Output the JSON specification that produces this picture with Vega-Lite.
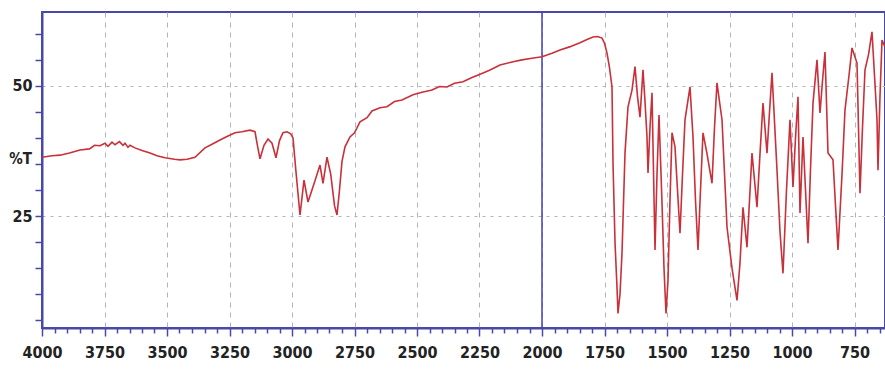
{
  "$schema": "https://vega.github.io/schema/vega-lite/v6.json",
  "width": 843,
  "height": 316,
  "autosize": {"type": "none"},
  "padding": {"left": 42, "top": 12, "right": 0, "bottom": 45},
  "background": "white",
  "config": {
    "view": {"stroke": "#4848a8", "strokeWidth": 2},
    "axis": {
      "labelFont": "DejaVu Sans Condensed, Liberation Sans Narrow, sans-serif",
      "labelFontSize": 16,
      "labelFontWeight": "bold",
      "labelColor": "#222222",
      "domainColor": "#4848a8",
      "domainWidth": 2,
      "tickColor": "#4848a8",
      "tickWidth": 1.5
    }
  },
  "datasets": {
    "spectrum": [
      {"wn": 4000, "t": 36.3}, {"wn": 3960, "t": 36.6}, {"wn": 3928, "t": 36.7}, {"wn": 3890, "t": 37.1},
      {"wn": 3848, "t": 37.7}, {"wn": 3810, "t": 37.9}, {"wn": 3790, "t": 38.6}, {"wn": 3768, "t": 38.5},
      {"wn": 3748, "t": 39.0}, {"wn": 3736, "t": 38.4}, {"wn": 3720, "t": 39.2}, {"wn": 3708, "t": 38.7},
      {"wn": 3690, "t": 39.3}, {"wn": 3676, "t": 38.6}, {"wn": 3668, "t": 39.0}, {"wn": 3656, "t": 38.2},
      {"wn": 3648, "t": 38.6}, {"wn": 3628, "t": 38.1}, {"wn": 3600, "t": 37.6}, {"wn": 3568, "t": 37.1},
      {"wn": 3540, "t": 36.6}, {"wn": 3508, "t": 36.2}, {"wn": 3470, "t": 35.9}, {"wn": 3448, "t": 35.8},
      {"wn": 3420, "t": 35.9}, {"wn": 3388, "t": 36.3}, {"wn": 3348, "t": 38.1}, {"wn": 3320, "t": 38.8},
      {"wn": 3288, "t": 39.6}, {"wn": 3260, "t": 40.3}, {"wn": 3228, "t": 41.0}, {"wn": 3200, "t": 41.2},
      {"wn": 3168, "t": 41.5}, {"wn": 3148, "t": 41.2}, {"wn": 3138, "t": 38.5}, {"wn": 3128, "t": 36.0},
      {"wn": 3112, "t": 38.6}, {"wn": 3096, "t": 39.8}, {"wn": 3080, "t": 39.0}, {"wn": 3064, "t": 36.2},
      {"wn": 3050, "t": 39.5}, {"wn": 3036, "t": 41.0}, {"wn": 3020, "t": 41.2}, {"wn": 3005, "t": 40.8},
      {"wn": 2996, "t": 40.0}, {"wn": 2985, "t": 34.0}, {"wn": 2968, "t": 25.2}, {"wn": 2952, "t": 31.9},
      {"wn": 2936, "t": 27.7}, {"wn": 2910, "t": 31.5}, {"wn": 2888, "t": 34.8}, {"wn": 2876, "t": 31.3},
      {"wn": 2860, "t": 36.3}, {"wn": 2845, "t": 33.0}, {"wn": 2830, "t": 27.0}, {"wn": 2820, "t": 25.2},
      {"wn": 2810, "t": 30.0}, {"wn": 2800, "t": 35.5}, {"wn": 2788, "t": 38.3}, {"wn": 2768, "t": 40.2},
      {"wn": 2750, "t": 41.0}, {"wn": 2728, "t": 43.1}, {"wn": 2700, "t": 43.9}, {"wn": 2680, "t": 45.2},
      {"wn": 2648, "t": 45.8}, {"wn": 2620, "t": 46.0}, {"wn": 2590, "t": 47.0}, {"wn": 2560, "t": 47.3},
      {"wn": 2516, "t": 48.3}, {"wn": 2480, "t": 48.8}, {"wn": 2440, "t": 49.2}, {"wn": 2410, "t": 49.9},
      {"wn": 2380, "t": 49.8}, {"wn": 2350, "t": 50.5}, {"wn": 2316, "t": 50.8}, {"wn": 2280, "t": 51.6},
      {"wn": 2250, "t": 52.2}, {"wn": 2210, "t": 53.0}, {"wn": 2168, "t": 54.0}, {"wn": 2120, "t": 54.6},
      {"wn": 2080, "t": 55.0}, {"wn": 2040, "t": 55.3}, {"wn": 2000, "t": 55.6}, {"wn": 1960, "t": 56.3},
      {"wn": 1928, "t": 56.9}, {"wn": 1890, "t": 57.5}, {"wn": 1848, "t": 58.3}, {"wn": 1820, "t": 58.9},
      {"wn": 1796, "t": 59.4}, {"wn": 1778, "t": 59.5}, {"wn": 1760, "t": 59.2}, {"wn": 1750, "t": 58.2},
      {"wn": 1740, "t": 56.3}, {"wn": 1730, "t": 53.5}, {"wn": 1720, "t": 49.8}, {"wn": 1716, "t": 35.2},
      {"wn": 1708, "t": 20.0}, {"wn": 1700, "t": 11.3}, {"wn": 1696, "t": 6.3}, {"wn": 1688, "t": 10.0},
      {"wn": 1680, "t": 17.9}, {"wn": 1668, "t": 37.1}, {"wn": 1656, "t": 46.0}, {"wn": 1640, "t": 49.2},
      {"wn": 1628, "t": 53.7}, {"wn": 1618, "t": 48.0}, {"wn": 1608, "t": 44.0}, {"wn": 1596, "t": 53.1},
      {"wn": 1588, "t": 47.0}, {"wn": 1580, "t": 40.2}, {"wn": 1576, "t": 33.3}, {"wn": 1568, "t": 42.0},
      {"wn": 1560, "t": 48.7}, {"wn": 1548, "t": 18.5}, {"wn": 1540, "t": 33.0}, {"wn": 1532, "t": 44.4},
      {"wn": 1520, "t": 27.5}, {"wn": 1512, "t": 15.0}, {"wn": 1504, "t": 6.3}, {"wn": 1496, "t": 12.7},
      {"wn": 1488, "t": 28.0}, {"wn": 1480, "t": 41.0}, {"wn": 1468, "t": 38.3}, {"wn": 1458, "t": 30.0},
      {"wn": 1448, "t": 21.7}, {"wn": 1438, "t": 33.0}, {"wn": 1428, "t": 43.5}, {"wn": 1408, "t": 49.8},
      {"wn": 1396, "t": 40.2}, {"wn": 1386, "t": 28.0}, {"wn": 1376, "t": 18.5}, {"wn": 1366, "t": 30.0},
      {"wn": 1356, "t": 41.0}, {"wn": 1340, "t": 37.0}, {"wn": 1320, "t": 31.3}, {"wn": 1310, "t": 42.0},
      {"wn": 1300, "t": 50.6}, {"wn": 1290, "t": 47.0}, {"wn": 1280, "t": 43.5}, {"wn": 1260, "t": 22.9},
      {"wn": 1240, "t": 15.0}, {"wn": 1220, "t": 8.8}, {"wn": 1208, "t": 16.0}, {"wn": 1196, "t": 26.7},
      {"wn": 1180, "t": 19.0}, {"wn": 1170, "t": 28.0}, {"wn": 1160, "t": 37.1}, {"wn": 1140, "t": 26.7},
      {"wn": 1128, "t": 37.0}, {"wn": 1116, "t": 46.7}, {"wn": 1100, "t": 37.1}, {"wn": 1090, "t": 45.0},
      {"wn": 1080, "t": 52.5}, {"wn": 1060, "t": 33.8}, {"wn": 1048, "t": 22.0}, {"wn": 1036, "t": 14.0},
      {"wn": 1022, "t": 30.0}, {"wn": 1008, "t": 43.5}, {"wn": 996, "t": 30.6}, {"wn": 986, "t": 40.0},
      {"wn": 976, "t": 47.9}, {"wn": 968, "t": 25.6}, {"wn": 956, "t": 40.2}, {"wn": 946, "t": 30.0},
      {"wn": 936, "t": 19.8}, {"wn": 926, "t": 34.0}, {"wn": 916, "t": 46.7}, {"wn": 900, "t": 55.0},
      {"wn": 888, "t": 44.8}, {"wn": 878, "t": 51.0}, {"wn": 868, "t": 56.5}, {"wn": 856, "t": 37.1},
      {"wn": 836, "t": 35.8}, {"wn": 826, "t": 27.0}, {"wn": 816, "t": 18.5}, {"wn": 800, "t": 33.0},
      {"wn": 788, "t": 45.4}, {"wn": 772, "t": 52.0}, {"wn": 760, "t": 57.3}, {"wn": 740, "t": 54.4},
      {"wn": 728, "t": 29.4}, {"wn": 718, "t": 42.0}, {"wn": 708, "t": 53.1}, {"wn": 694, "t": 56.0},
      {"wn": 680, "t": 60.4}, {"wn": 670, "t": 52.0}, {"wn": 660, "t": 43.5}, {"wn": 656, "t": 33.8},
      {"wn": 648, "t": 48.0}, {"wn": 640, "t": 58.8}, {"wn": 628, "t": 57.5}
    ],
    "marker": [{"wn": 2000}]
  },
  "encoding": {
    "x": {
      "field": "wn",
      "type": "quantitative",
      "scale": {"domain": [628, 4000], "reverse": true, "nice": false, "zero": false},
      "axis": {
        "title": null,
        "format": "d",
        "values": [650,700,750,800,850,900,950,1000,1050,1100,1150,1200,1250,1300,1350,1400,1450,1500,1550,1600,1650,1700,1750,1800,1850,1900,1950,2000,2050,2100,2150,2200,2250,2300,2350,2400,2450,2500,2550,2600,2650,2700,2750,2800,2850,2900,2950,3000,3050,3100,3150,3200,3250,3300,3350,3400,3450,3500,3550,3600,3650,3700,3750,3800,3850,3900,3950,4000],
        "labelExpr": "datum.value % 250 == 0 ? datum.label : ''",
        "labelPadding": 8,
        "labelFlush": false,
        "labelOverlap": false,
        "tickSize": {"condition": {"test": "datum.value % 250 == 0", "value": 8}, "value": 5},
        "grid": true,
        "gridColor": "#b4b4b4",
        "gridDash": [5, 5],
        "gridWidth": 1,
        "gridOpacity": {"condition": {"test": "datum.value % 250 == 0", "value": 1}, "value": 0}
      }
    }
  },
  "layer": [
    {
      "data": {"name": "marker"},
      "mark": {"type": "rule", "color": "#4040b8", "strokeWidth": 1.5}
    },
    {
      "data": {"name": "spectrum"},
      "mark": {"type": "line", "color": "#c8303a", "strokeWidth": 1.6, "clip": true, "interpolate": "linear"},
      "encoding": {
        "y": {
          "field": "t",
          "type": "quantitative",
          "scale": {"domain": [3.5, 64.2], "nice": false, "zero": false},
          "axis": {
            "title": "%T",
            "titleAngle": 0,
            "titleFont": "DejaVu Sans Condensed, Liberation Sans Narrow, sans-serif",
            "titleFontSize": 15,
            "titleFontWeight": "bold",
            "titleColor": "#222222",
            "titleX": -22,
            "titleY": 146,
            "titleAlign": "center",
            "titleBaseline": "middle",
            "values": [5,10,15,20,25,30,35,40,45,50,55,60],
            "labelExpr": "datum.value == 25 || datum.value == 50 ? datum.label : ''",
            "tickSize": 7,
            "labelPadding": 3,
            "grid": true,
            "gridColor": "#b4b4b4",
            "gridDash": [3, 5],
            "gridWidth": 1,
            "gridOpacity": {"condition": {"test": "datum.value == 25 || datum.value == 50", "value": 1}, "value": 0}
          }
        }
      }
    }
  ]
}
